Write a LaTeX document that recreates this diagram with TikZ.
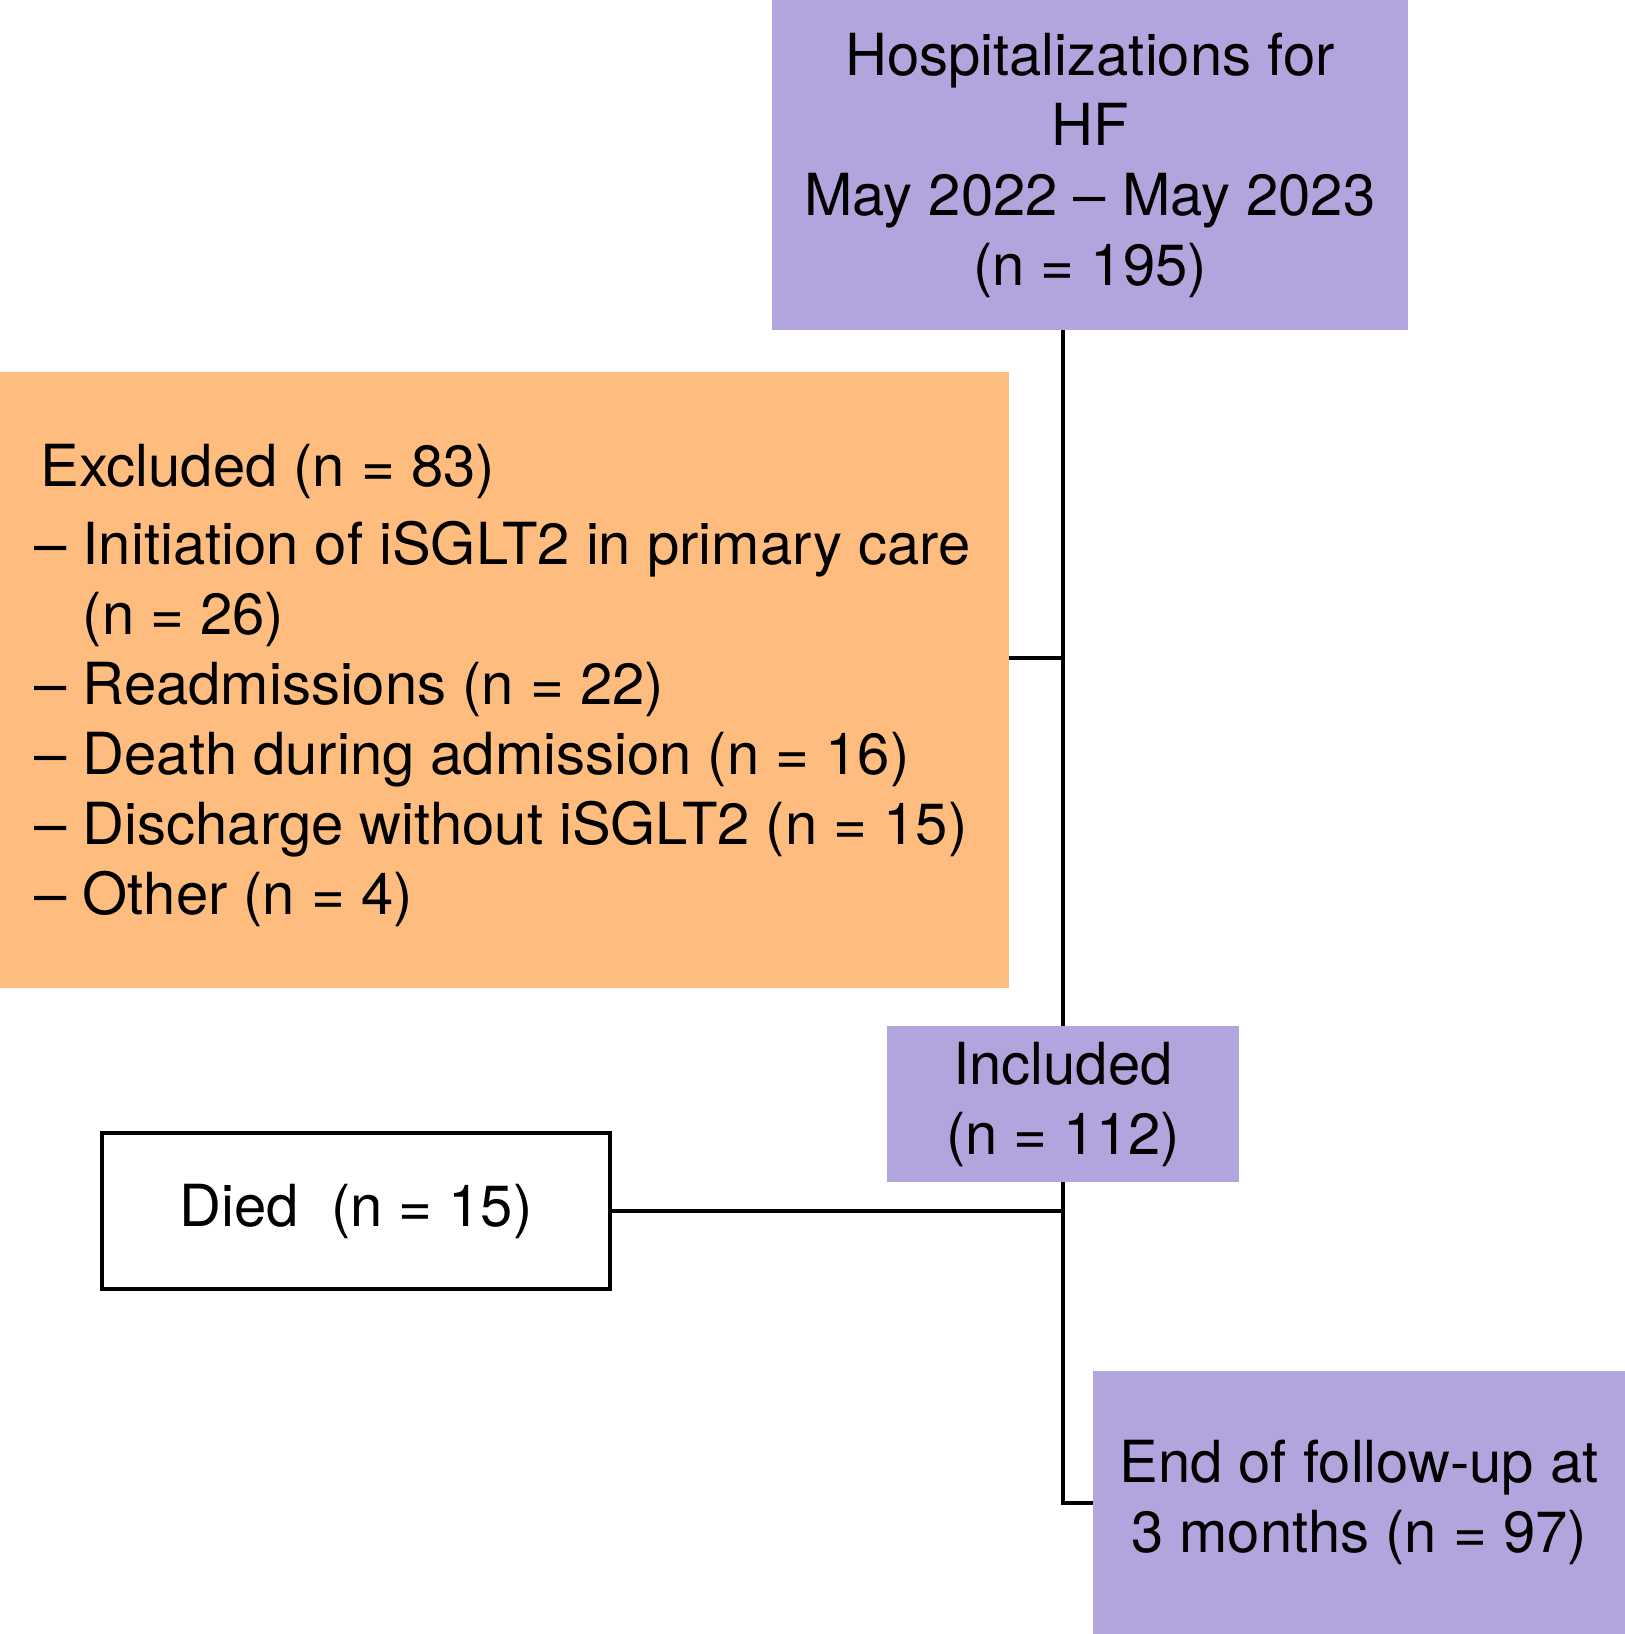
\documentclass[tikz,border=0pt]{standalone}
\usepackage{fontspec}
\setmainfont{TeX Gyre Heros}
\definecolor{boxpurple}{RGB}{178,165,222}
\definecolor{boxorange}{RGB}{254,188,126}

\tikzset{
  flowbox/.style={inner sep=0pt, align=center, font=\fontsize{29}{35}\selectfont},
  purplebox/.style={flowbox, fill=boxpurple},
  link/.style={line width=2pt}
}

\begin{document}
\begin{tikzpicture}[x=0.5pt, y=-0.5pt]
  \useasboundingbox (0,0) rectangle (1625,1634);
  \node[purplebox, minimum width=318pt, minimum height=165pt] (hosp) at (1090,165)
    {Hospitalizations for\\ HF\\ May 2022 -- May 2023\\ (n = 195)};
  \node[flowbox, fill=boxorange, minimum width=504.5pt, minimum height=308pt] (excl) at (504.5,680) {};
  \node[flowbox, align=left, anchor=west] (excltext) at (34,685)
    {\hspace{3pt}Excluded (n = 83)\\[4pt]
     -- Initiation of iSGLT2 in primary care\\
     \phantom{-- }(n = 26)\\
     -- Readmissions (n = 22)\\
     -- Death during admission (n = 16)\\
     -- Discharge without iSGLT2 (n = 15)\\
     -- Other (n = 4)};
  \node[purplebox, minimum width=176pt, minimum height=78pt] (incl) at (1063,1104)
    {Included\\ (n = 112)};
  \node[flowbox, draw, line width=2.2pt, minimum width=254pt, minimum height=78pt] (died) at (356,1211)
    {Died\ \ (n = 15)};
  \node[purplebox, minimum width=266pt, minimum height=131.5pt] (endfu) at (1359,1502.5)
    {End of follow-up at\\ 3 months (n = 97)\hspace{6pt}};
  % connectors
  \coordinate (exclout) at ([yshift=11pt]excl.east);
  \draw[link] (incl.north |- hosp.south) -- (incl.north);
  \draw[link] (exclout) -- (exclout -| incl.north);
  \draw[link] (died.east) -- (died.east -| incl.south);
  \draw[link] (incl.south) |- (endfu.west);
\end{tikzpicture}
\end{document}
